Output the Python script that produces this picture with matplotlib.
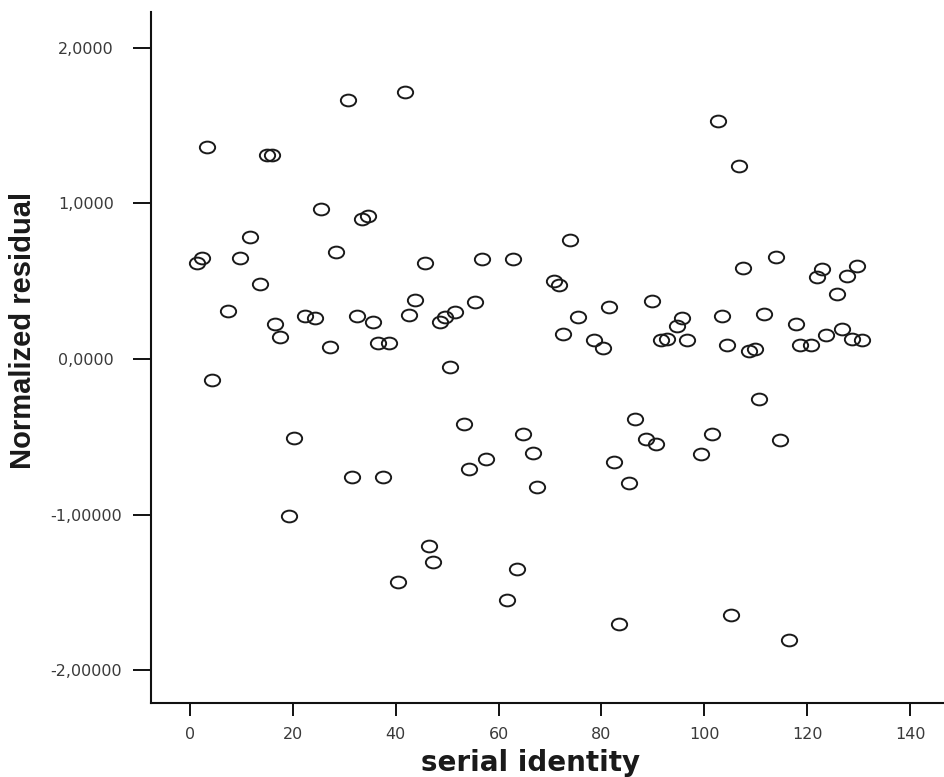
import matplotlib
matplotlib.use('Agg')
import matplotlib.pyplot as plt
import numpy as np
from matplotlib.path import Path

# serial identity (x) and normalized residual (y)
serial_id = [1.3, 2.3, 3.4, 4.3, 7.3, 9.7, 11.7, 13.6, 14.9, 15.9,
             16.5, 17.5, 19.3, 20.2, 22.4, 24.4, 25.5, 27.3, 28.4, 30.7,
             31.5, 32.5, 33.4, 34.6, 35.5, 36.6, 37.5, 38.7, 40.4, 41.9,
             42.6, 43.8, 45.6, 46.5, 47.3, 48.6, 49.5, 50.5, 51.5, 53.3,
             54.3, 55.4, 56.7, 57.6, 61.6, 62.9, 63.6, 64.7, 66.6, 67.5,
             70.8, 71.8, 72.6, 73.8, 75.5, 78.6, 80.4, 81.5, 82.4, 83.4,
             85.4, 86.5, 88.6, 89.8, 90.7, 91.6, 92.8, 94.7, 95.7, 96.7,
             99.4, 101.4, 102.7, 103.5, 104.5, 105.2, 106.7, 107.5, 108.6, 109.8,
             110.6, 111.7, 113.9, 114.7, 116.5, 117.8, 118.7, 120.8, 121.9, 122.8,
             123.7, 125.8, 126.8, 127.8, 128.7, 129.7, 130.7]
residual = [0.617, 0.647, 1.362, -0.135, 0.307, 0.647, 0.782, 0.482, 1.309, 1.309,
            0.225, 0.139, -1.009, -0.508, 0.278, 0.262, 0.964, 0.077, 0.688, 1.665,
            -0.758, 0.276, 0.900, 0.917, 0.236, 0.103, -0.758, 0.103, -1.433, 1.714,
            0.281, 0.381, 0.619, -1.202, -1.305, 0.236, 0.272, -0.051, 0.300, -0.418,
            -0.707, 0.364, 0.643, -0.645, -1.549, 0.643, -1.348, -0.480, -0.606, -0.821,
            0.501, 0.474, 0.159, 0.767, 0.268, 0.124, 0.069, 0.332, -0.664, -1.705,
            -0.797, -0.386, -0.512, 0.373, -0.544, 0.120, 0.127, 0.212, 0.263, 0.120,
            -0.612, -0.482, 1.528, 0.278, 0.092, -1.643, 1.242, 0.583, 0.053, 0.066,
            -0.255, 0.289, 0.654, -0.521, -1.808, 0.223, 0.088, 0.088, 0.527, 0.580,
            0.154, 0.416, 0.193, 0.533, 0.127, 0.598, 0.120]

x_ticks = [0, 20, 40, 60, 80, 100, 120, 140]
y_ticks = [2.0, 1.0, 0.0, -1.0, -2.0]
y_tick_labels = ["2,0000", "1,0000", "0,0000", "-1,00000", "-2,00000"]

W, H = 944, 777
fig = plt.figure(figsize=(W / 100, H / 100), dpi=100)
ax = fig.add_axes([151 / W, (H - 703) / H, (W - 151) / W, (703 - 12) / H])

# open ellipse marker, a little wider than tall
circ = Path.unit_circle()
ellipse = Path(circ.vertices * np.array([1.3, 1.0]), circ.codes)

ax.plot(serial_id, residual, linestyle='none', marker=ellipse, markersize=11,
        markerfacecolor='none', markeredgecolor='#1a1a1a', markeredgewidth=1.4)

ax.set_xlim((151 - 190) / 5.143, (W - 190) / 5.143)
ax.set_ylim((359 - 703) / 155.6, (359 - 12) / 155.6)

for s in ['top', 'right']:
    ax.spines[s].set_visible(False)
for s in ['left', 'bottom']:
    ax.spines[s].set_linewidth(1.5)
    ax.spines[s].set_color('#111111')

ax.set_xticks(x_ticks)
ax.set_xticklabels([str(t) for t in x_ticks], fontsize=11.5, color='#3a3a3a',
                   family='DejaVu Sans')
ax.set_yticks(y_ticks)
ax.set_yticklabels(y_tick_labels, fontsize=11.5, color='#3a3a3a',
                   family='DejaVu Sans', ha='center')

ax.tick_params(axis='x', direction='out', length=9.5, width=1.4, pad=8, color='#111111')
ax.tick_params(axis='y', direction='out', length=13, width=1.4, pad=34, color='#111111')

fig.text(23 / W, 1 - 330 / H, "Normalized residual", rotation=90,
         ha='center', va='center', fontsize=21, fontweight='bold',
         family='Liberation Sans', color='#1a1a1a')
fig.text(531 / W, 1 - 771 / H, "serial identity", ha='center', va='baseline',
         fontsize=20, fontweight='bold', family='DejaVu Sans', color='#1a1a1a')

plt.savefig('out.png', dpi=100)
